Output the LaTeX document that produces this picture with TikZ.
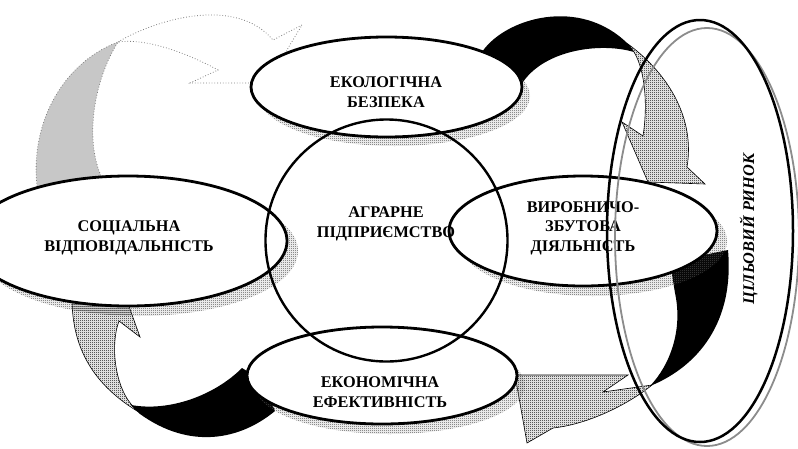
\documentclass[tikz,border=0pt]{standalone}
\usepackage{fontspec}
\setmainfont{Liberation Serif}
\usetikzlibrary{patterns,shapes.geometric}
\pgfdeclarepatternformonly{fdots}{\pgfpointorigin}{\pgfpoint{2pt}{2pt}}{\pgfpoint{2pt}{2pt}}{%
  \pgfpathrectangle{\pgfpointorigin}{\pgfpoint{1pt}{1pt}}%
  \pgfpathrectangle{\pgfpoint{1pt}{1pt}}{\pgfpoint{1pt}{1pt}}%
  \pgfusepath{fill}}
\tikzset{
  oval/.style={ellipse, draw, line width=2.8pt, fill=white, inner sep=0pt},
  shadowfill/.style={pattern=fdots, pattern color=black!70},
  ribbon/.style={fill=black},
  dotarrow/.style={pattern=fdots, pattern color=black, draw, line width=0.6pt},
  ghost/.style={draw=black!50, dotted, line width=0.8pt},
  lbl/.style={font=\fontsize{16.3}{19.5}\selectfont\bfseries, align=center, anchor=base, inner sep=0pt}
}
\begin{document}
\begin{tikzpicture}[x=1pt,y=-1pt]
\useasboundingbox (0,0) rectangle (798,448);
% ghost arrow (top left)
\filldraw[ghost, fill=black!22] (37,192) -- (37,186) .. controls (30,120) and (65,62) .. (118,42) .. controls (94,80) and (84,140) .. (102,178) -- (102,186) -- cycle;
\draw[ghost, fill=white] (118,42) .. controls (155,20) and (235,-5) .. (273,40) -- (302,25) -- (267,83) -- (190,83) -- (218,70) .. controls (185,52) and (145,38) .. (118,42) -- cycle;
% top right arrow
\fill[ribbon] (482,52) .. controls (505,18) and (580,-4) .. (628,44) -- (634,52) .. controls (600,42) and (545,50) .. (523,82) -- (500,80) -- cycle;
\filldraw[dotarrow] (628,44) .. controls (670,75) and (695,120) .. (687,167) -- (705,184) -- (648,182) -- (622,122) -- (643,136) .. controls (648,105) and (645,70) .. (634,52) -- cycle;
% right arrow
\fill[ribbon] (670,262) -- (675,293) .. controls (683,330) and (670,365) .. (650,386) .. controls (690,370) and (735,330) .. (728,250) -- cycle;
\filldraw[dotarrow] (515,375) -- (628,375) -- (603,392) -- (652,385) .. controls (630,403) and (590,424) .. (553,428) -- (527,443) -- cycle;
% bottom left arrow
\fill[ribbon] (131,405) .. controls (170,412) and (215,395) .. (242,368) -- (262,380) -- (275,411) .. controls (240,440) and (190,450) .. (140,414) -- cycle;
\filldraw[dotarrow] (72,298) .. controls (72,350) and (95,385) .. (137,411) -- (131,404) .. controls (115,385) and (110,345) .. (119,321) -- (140,337) -- (126,298) -- cycle;
% shadows
\fill[shadowfill] (394.5,96) ellipse [x radius=135.5pt, y radius=50pt];
\fill[shadowfill] (139,251) ellipse [x radius=159pt, y radius=65pt];
\fill[shadowfill] (593,241) ellipse [x radius=134pt, y radius=55pt];
\fill[shadowfill] (390,385.5) ellipse [x radius=135pt, y radius=48.5pt];
% ovals
\node[oval, minimum width=271pt, minimum height=100pt] (eco) at (386.5,87) {};
\node[oval, minimum width=318pt, minimum height=130pt] (soc) at (128,241) {};
\node[oval, minimum width=268pt, minimum height=110pt] (prod) at (583,231) {};
\node[oval, minimum width=270pt, minimum height=97pt] (econ) at (382,375.5) {};
\node[circle, draw, line width=2.4pt, minimum size=242pt, inner sep=0pt] (firm) at (386.5,240.5) {};
% labels (base = last line)
\node[lbl] (ecot) at (386,107) {ЕКОЛОГІЧНА\\БЕЗПЕКА};
\node[lbl] (firmt) at (386,237) {АГРАРНЕ\\ПІДПРИЄМСТВО};
\node[lbl] (soct) at (129,251) {СОЦІАЛЬНА\\ВІДПОВІДАЛЬНІСТЬ};
\node[lbl] (prodt) at (583,251) {ВИРОБНИЧО-\\ЗБУТОВА\\ДІЯЛЬНІСТЬ};
\node[lbl] (econt) at (380,407) {ЕКОНОМІЧНА\\ЕФЕКТИВНІСТЬ};
% target market
\draw[black!45, line width=1.8pt] (707,237) ellipse [x radius=92pt, y radius=209pt];
\node[ellipse, draw, line width=2.5pt, minimum width=186pt, minimum height=422pt, inner sep=0pt] (market) at (700,231) {};
\node[lbl, font=\fontsize{16.3}{19.5}\selectfont\bfseries\itshape, rotate=90] (markett) at (754,229) {ЦІЛЬОВИЙ РИНОК};
\end{tikzpicture}
\end{document}
